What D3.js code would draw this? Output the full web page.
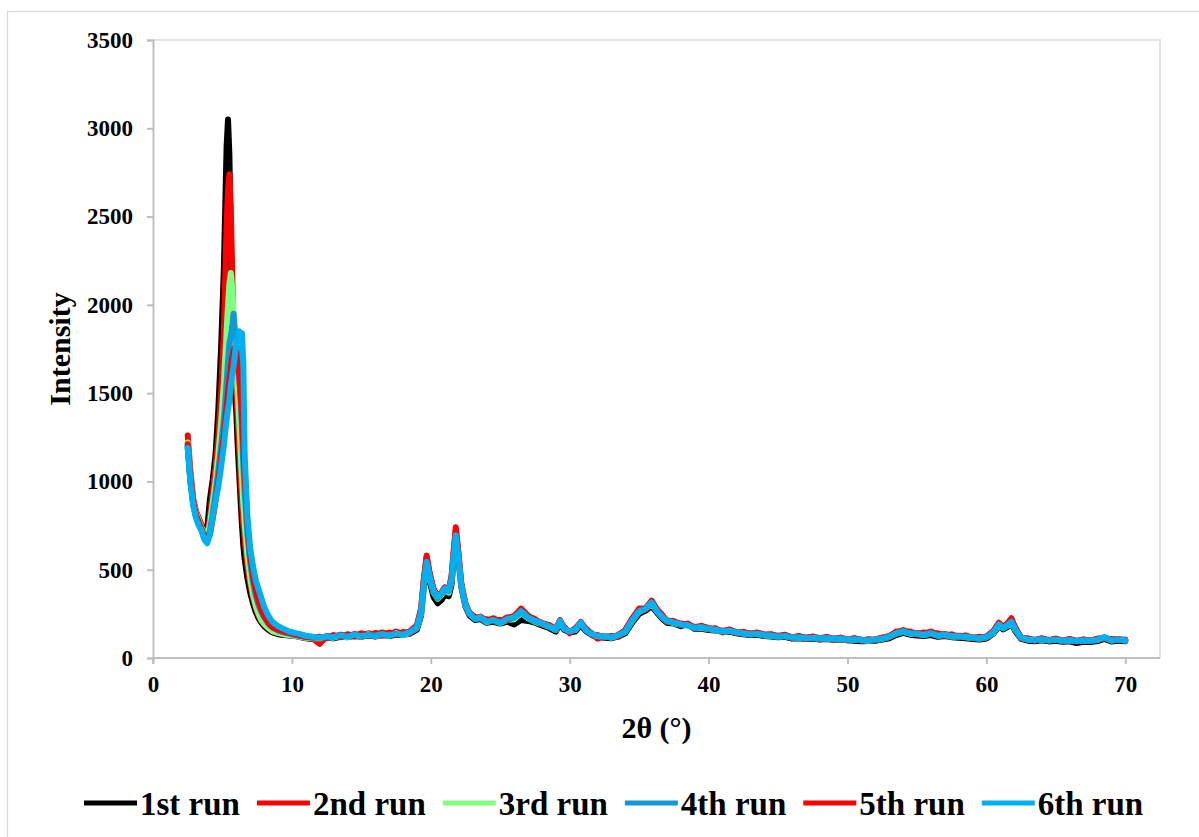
<!DOCTYPE html>
<html>
<head>
<meta charset="utf-8">
<script src="https://cdn.jsdelivr.net/npm/d3@7"></script>
<style>
  body { margin: 0; background: #fff; }
  svg { display: block; font-family: "Liberation Serif", "Times New Roman", serif; }
</style>
</head>
<body>
<svg id="svg" width="1199" height="837"></svg>
<script>
// series names and colours
const runNames = ['1st run', '2nd run', '3rd run', '4th run', '5th run', '6th run'];
const runColors = ['#000000', '#ff0000', '#80ff80', '#1199d6', '#ff0000', '#00b0f0'];

const xTicks = [0, 10, 20, 30, 40, 50, 60, 70];
const yTicks = [0, 500, 1000, 1500, 2000, 2500, 3000, 3500];

// 2theta positions, low angle part (fine steps round the big peak)
const headAngles = [2.5, 2.7, 2.9, 3.1, 3.3, 3.5, 3.7, 3.9, 4.1, 4.3, 4.5, 4.7, 4.9, 5.1, 5.2, 5.3, 5.4, 5.5, 5.6, 5.7,
  5.8, 5.9, 6.0, 6.1, 6.2, 6.3, 6.4, 6.5, 6.6, 6.8, 7.0, 7.2, 7.4, 7.6, 7.8, 8.0, 8.3, 8.6, 9.0, 9.4,
  9.8, 10.2, 10.6, 11.0, 11.5];

// 2theta positions, rest of the scan
const tailAngles = [12, 12.5, 13, 13.5, 14, 14.5, 15, 15.5, 16, 16.5, 17, 17.5, 18, 18.5, 19,
  19.3, 19.5, 19.7, 19.9, 20.2, 20.5, 20.8, 21.0, 21.3, 21.5, 21.65, 21.8, 21.95, 22.2, 22.5, 22.8, 23.2, 23.6,
  24, 24.5, 25, 25.5, 26, 26.5, 27, 27.5, 28, 28.5, 29,
  29.3, 29.6, 30, 30.4, 30.8, 31.2, 31.6, 32,
  32.5, 33, 33.5, 34, 34.5, 35, 35.5,
  35.9, 36.3, 36.7,
  37, 37.5, 38, 38.5, 39, 39.5, 40, 40.5, 41, 41.5, 42, 42.5, 43, 43.5, 44, 44.5, 45, 45.5, 46, 46.5,
  47, 47.5, 48, 48.5, 49, 49.5, 50, 50.5, 51, 51.5, 52, 52.5, 53, 53.5, 54, 54.5, 55, 55.5, 56, 56.5,
  57, 57.5, 58, 58.5, 59, 59.5, 60, 60.5,
  60.9, 61.2, 61.5, 61.8, 62.1,
  62.5, 63, 63.5, 64, 64.5, 65, 65.5, 66, 66.5, 67, 67.5, 68, 68.5, 69, 69.5, 70];

const run1Head = [1200, 1000, 880, 820, 790, 750, 720, 730, 900, 1010, 1150, 1400, 1750, 2200, 2550, 2900, 3050, 2850, 2350, 1950,
  1650, 1500, 1380, 1200, 1050, 900, 760, 640, 560, 450, 370, 310, 260, 225, 200, 180, 160, 145, 135, 130,
  128, 125, 118, 112, 108];
const run2Head = [1260, 1050, 900, 830, 790, 740, 690, 700, 800, 950, 1080, 1250, 1500, 1850, 2150, 2450, 2650, 2740, 2550, 2200,
  1850, 1650, 1500, 1350, 1200, 1030, 880, 760, 660, 520, 420, 340, 285, 240, 210, 190, 170, 150, 140, 135,
  130, 125, 120, 115, 110];
const run3Head = [1220, 1020, 880, 820, 780, 740, 700, 690, 760, 880, 1000, 1150, 1330, 1550, 1700, 1850, 2000, 2120, 2180, 2100,
  1950, 1800, 1650, 1500, 1350, 1180, 1020, 880, 760, 580, 450, 360, 295, 250, 215, 195, 170, 152, 142, 135,
  130, 126, 120, 115, 112];
const run4Head = [1190, 1000, 870, 800, 760, 720, 680, 670, 720, 820, 930, 1060, 1200, 1350, 1450, 1560, 1680, 1780, 1820, 1870,
  1950, 1850, 1800, 1700, 1620, 1480, 1300, 1100, 940, 700, 540, 430, 350, 300, 260, 230, 195, 172, 155, 145,
  138, 130, 124, 119, 114];
const run5Head = [1210, 1020, 880, 810, 770, 730, 690, 670, 700, 790, 890, 1000, 1130, 1260, 1340, 1420, 1500, 1580, 1640, 1700,
  1740, 1760, 1720, 1660, 1600, 1500, 1380, 1200, 1030, 760, 580, 460, 380, 320, 275, 240, 200, 175, 160, 150,
  142, 134, 127, 120, 116];
const run6Head = [1190, 990, 860, 790, 750, 720, 670, 650, 700, 800, 890, 970, 1080, 1200, 1280, 1350, 1410, 1460, 1540, 1600,
  1650, 1720, 1800, 1760, 1850, 1800, 1840, 1680, 1150, 800, 620, 520, 440, 390, 340, 290, 240, 205, 180, 165,
  150, 142, 135, 126, 120];

const run1Tail = [108, 115, 112, 120, 118, 125, 120, 128, 122, 130, 125, 132, 130, 138, 160,
  240, 400, 530, 440, 345, 310, 330, 360, 350, 420, 560, 680, 590, 400, 290, 240, 215, 220,
  200, 205, 195, 205, 190, 215, 210, 200, 185, 170, 150,
  195, 160, 145, 150, 185, 150, 130, 120,
  115, 112, 122, 140, 200, 250, 270,
  295, 255, 220,
  200, 195, 180, 190, 165, 165, 158, 155, 148, 150, 140, 135, 130, 132, 125, 122, 118, 120, 110, 112,
  108, 110, 105, 108, 103, 105, 100, 98, 95, 96, 98, 104, 112, 130, 142, 132, 128, 125, 130, 120,
  125, 118, 115, 112, 108, 105, 110, 138,
  180, 162, 175, 195, 150,
  108, 98, 95, 100, 94, 98, 92, 95, 85, 92, 90, 96, 108, 94, 98, 95];
const run2Tail = [80, 125, 120, 132, 122, 136, 128, 140, 130, 145, 132, 150, 135, 152, 185,
  280, 450, 580, 490, 390, 350, 375, 400, 385, 470, 610, 740, 630, 420, 305, 255, 225, 235,
  210, 225, 205, 230, 235, 280, 240, 215, 200, 185, 165,
  215, 170, 145, 165, 205, 160, 140, 110,
  125, 115, 132, 155, 225, 275, 285,
  325, 270, 235,
  215, 205, 195, 190, 175, 180, 170, 162, 155, 160, 148, 145, 140, 142, 135, 132, 126, 130, 118, 122,
  116, 120, 112, 118, 110, 114, 106, 110, 104, 102, 106, 114, 125, 145, 158, 145, 142, 138, 150, 132,
  136, 128, 126, 124, 118, 115, 122, 152,
  200, 175, 195, 225, 165,
  118, 108, 104, 110, 102, 108, 100, 105, 98, 104, 100, 108, 112, 104, 108, 102];
const run3Tail = [112, 118, 115, 124, 118, 128, 122, 134, 124, 132, 126, 140, 130, 142, 170,
  250, 410, 540, 460, 370, 335, 360, 385, 370, 440, 570, 690, 595, 405, 298, 248, 222, 228,
  204, 212, 198, 215, 220, 255, 225, 205, 192, 178, 158,
  205, 168, 152, 158, 198, 158, 136, 124,
  122, 116, 126, 148, 210, 262, 278,
  310, 262, 228,
  208, 198, 188, 182, 172, 170, 164, 158, 146, 154, 144, 138, 134, 136, 128, 126, 120, 124, 114, 116,
  110, 114, 108, 112, 106, 108, 102, 104, 100, 98, 102, 108, 118, 138, 148, 138, 136, 130, 138, 126,
  130, 122, 120, 118, 113, 110, 116, 142,
  188, 168, 182, 202, 158,
  113, 104, 100, 104, 99, 103, 97, 100, 95, 99, 97, 102, 115, 99, 103, 99];
const run4Tail = [118, 120, 122, 126, 124, 130, 126, 132, 128, 134, 130, 136, 134, 146, 172,
  255, 415, 540, 465, 375, 340, 368, 390, 378, 445, 575, 690, 598, 408, 302, 252, 222, 226,
  208, 212, 202, 218, 228, 260, 228, 208, 196, 182, 162,
  208, 166, 152, 162, 198, 156, 136, 126,
  121, 120, 127, 150, 212, 264, 282,
  312, 266, 232,
  208, 202, 188, 186, 172, 174, 166, 158, 152, 154, 146, 140, 136, 137, 131, 127, 123, 124, 116, 117,
  113, 114, 111, 112, 109, 109, 105, 105, 103, 101, 103, 110, 121, 139, 151, 141, 137, 133, 139, 129,
  131, 125, 121, 121, 116, 111, 117, 146,
  189, 171, 184, 204, 161,
  116, 106, 101, 105, 101, 103, 99, 101, 97, 99, 99, 103, 117, 101, 103, 101];
const run5Tail = [120, 112, 130, 118, 135, 122, 140, 125, 142, 128, 145, 130, 148, 140, 180,
  270, 440, 570, 480, 385, 345, 372, 398, 382, 460, 600, 720, 615, 415, 302, 252, 232, 222,
  220, 208, 215, 212, 240, 270, 235, 220, 190, 188, 160,
  205, 175, 140, 168, 195, 165, 130, 130,
  115, 125, 120, 160, 220, 280, 275,
  320, 275, 240,
  205, 210, 185, 195, 168, 182, 162, 168, 145, 162, 142, 148, 132, 145, 128, 135, 120, 132, 112, 125,
  108, 122, 106, 120, 104, 116, 100, 112, 98, 106, 100, 116, 118, 150, 145, 150, 132, 145, 135, 140,
  125, 134, 118, 128, 112, 120, 115, 150,
  195, 180, 190, 215, 170,
  112, 112, 98, 112, 98, 110, 96, 108, 94, 106, 96, 110, 110, 108, 98, 104];
const run6Tail = [115, 122, 118, 128, 120, 132, 124, 130, 126, 135, 128, 138, 132, 145, 175,
  260, 420, 545, 470, 380, 345, 370, 395, 380, 450, 580, 695, 600, 410, 300, 250, 220, 230,
  205, 215, 200, 220, 230, 265, 230, 210, 195, 180, 160,
  210, 165, 150, 160, 200, 155, 135, 125,
  120, 118, 128, 150, 215, 265, 280,
  315, 265, 230,
  210, 200, 190, 185, 170, 175, 165, 160, 150, 155, 145, 140, 135, 138, 130, 128, 122, 125, 115, 118,
  112, 115, 110, 113, 108, 110, 104, 106, 102, 100, 104, 110, 120, 140, 150, 140, 138, 132, 140, 128,
  132, 124, 122, 120, 115, 112, 118, 145,
  190, 170, 185, 205, 160,
  115, 105, 102, 106, 100, 104, 98, 102, 96, 100, 98, 104, 118, 100, 104, 100];

const runHeads = [run1Head, run2Head, run3Head, run4Head, run5Head, run6Head];
const runTails = [run1Tail, run2Tail, run3Tail, run4Tail, run5Tail, run6Tail];

const svg = d3.select('#svg');
const margin = {top: 40, right: 39, bottom: 179, left: 153};
const W = 1199, H = 837;

const x = d3.scaleLinear().domain([0, 72.5]).range([margin.left, W - margin.right]);
const y = d3.scaleLinear().domain([0, 3500]).range([H - margin.bottom, margin.top]);

// chart area border
svg.append('rect')
  .attr('x', 7.5).attr('y', 11.5)
  .attr('width', 1210).attr('height', 840)
  .attr('fill', '#fff').attr('stroke', '#d9d9d9').attr('stroke-width', 1.2);

// plot area frame (top/right)
svg.append('path')
  .attr('d', `M${x(0)},${y(3500)}H${x(72.5)}V${y(0)}`)
  .attr('fill', 'none').attr('stroke', '#e3e3e3').attr('stroke-width', 2);

// axes
const gx = svg.append('g')
  .attr('transform', `translate(0,${y(0)})`)
  .call(d3.axisBottom(x).tickValues(xTicks).tickSize(6).tickPadding(12).tickFormat(d3.format('d')));
gx.select('.domain').attr('d', `M${x(0)},6V0H${x(72.5)}`);

const gy = svg.append('g')
  .attr('transform', `translate(${x(0)},0)`)
  .call(d3.axisLeft(y).tickValues(yTicks).tickSize(6).tickPadding(14).tickFormat(d3.format('d')));

svg.selectAll('.domain, .tick line')
  .attr('stroke', '#bfbfbf').attr('stroke-width', 2);
svg.selectAll('.tick text')
  .attr('fill', '#000')
  .style('font-family', '"Liberation Serif", serif')
  .style('font-weight', 'bold')
  .style('font-size', '23px');

// the six runs, first one at the bottom
const line = d3.line().x(d => x(d[0])).y(d => y(d[1]));
runNames.forEach((name, i) => {
  const pts = headAngles.map((a, j) => [a, runHeads[i][j]])
    .concat(tailAngles.map((a, j) => [a, runTails[i][j]]));
  svg.append('path')
    .datum(pts)
    .attr('fill', 'none')
    .attr('stroke', runColors[i])
    .attr('stroke-width', 6)
    .attr('stroke-linejoin', 'round')
    .attr('stroke-linecap', 'round')
    .attr('d', line);
});

// axis titles
svg.append('text')
  .attr('transform', `translate(70,${(y(0) + y(3500)) / 2}) rotate(-90)`)
  .attr('text-anchor', 'middle')
  .style('font-weight', 'bold').style('font-size', '30px')
  .text('Intensity');

svg.append('text')
  .attr('x', (x(0) + x(72.5)) / 2).attr('y', 738)
  .attr('text-anchor', 'middle')
  .style('font-weight', 'bold').style('font-size', '30px')
  .text('2θ (°)');

// legend
const legend = svg.append('g');
let lx = 84;
const ly = 803;
runNames.forEach((name, i) => {
  legend.append('line')
    .attr('x1', lx).attr('x2', lx + 53)
    .attr('y1', ly).attr('y2', ly)
    .attr('stroke', runColors[i]).attr('stroke-width', 5);
  const t = legend.append('text')
    .attr('x', lx + 56).attr('y', ly).attr('dy', '0.35em')
    .style('font-weight', 'bold').style('font-size', '33px')
    .text(name);
  lx += 56 + t.node().getComputedTextLength() + 17;
});
</script>
</body>
</html>
